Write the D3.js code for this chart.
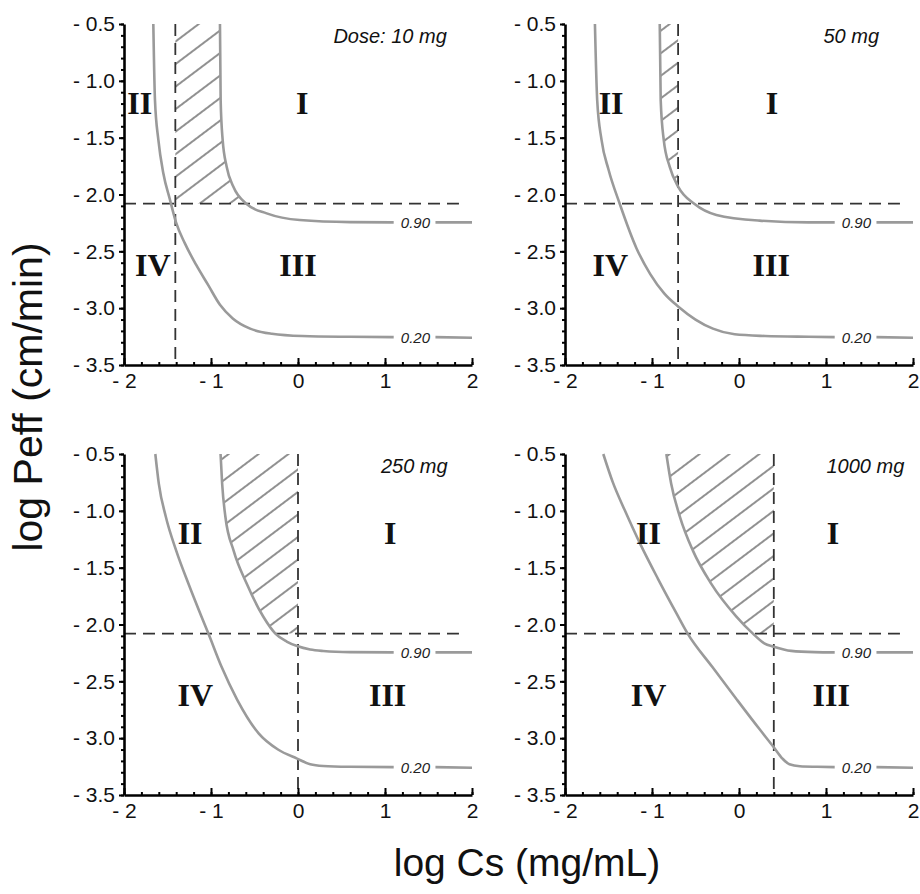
<!DOCTYPE html>
<html>
<head>
<meta charset="utf-8">
<script src="https://cdn.jsdelivr.net/npm/d3@7"></script>
<style>
  body { margin: 0; background: #fff; }
</style>
</head>
<body>
<svg width="920" height="894" font-family="'Liberation Sans', Arial, sans-serif"></svg>
<script>
// ---- data ----
const doseLabels = ['Dose: 10 mg', '50 mg', '250 mg', '1000 mg'];
const doseLabelX = [1.71, 1.61, 1.72, 1.90];     // right edge of the dose text (log Cs)
const doseLine = [-1.41, -0.70, 0.0, 0.40];      // vertical dashed line, log Cs
const peffLine = -2.08;                          // horizontal dashed line, log Peff
const xTickValues = [-2, -1, 0, 1, 2];
const yTickValues = [-0.5, -1.0, -1.5, -2.0, -2.5, -3.0, -3.5];
const contourNames = ['0.90', '0.20'];
const contourLabelX = 1.35;
const regionNames = ['I', 'II', 'III', 'IV'];
const regionY = [-1.29, -1.29, -2.72, -2.72];
// x position of region labels I, II, III, IV per panel
const regionX = [
  [0.05, -1.82, 0.0, -1.67],
  [0.38, -1.47, 0.37, -1.48],
  [1.06, -1.24, 1.03, -1.18],
  [1.08, -1.04, 1.06, -1.04]
];

// fraction absorbed = 0.90 contour, [log Cs, log Peff]
const curve90 = [
  [[-0.897, -0.5], [-0.889, -1.17], [-0.866, -1.52], [-0.82, -1.755], [-0.744, -1.93], [-0.59, -2.084],
   [-0.36, -2.166], [0.02, -2.225], [0.6, -2.243], [1.1, -2.245], [1.58, -2.245], [2.0, -2.245]],
  [[-0.911, -0.5], [-0.90, -1.17], [-0.865, -1.52], [-0.797, -1.755], [-0.70, -1.93], [-0.51, -2.084],
   [-0.26, -2.18], [0.235, -2.23], [0.8, -2.245], [1.1, -2.245], [1.58, -2.245], [2.0, -2.245]],
  [[-0.89, -0.5], [-0.872, -0.76], [-0.835, -1.05], [-0.74, -1.35], [-0.59, -1.64], [-0.40, -1.93], [-0.26, -2.08],
   [-0.13, -2.15], [-0.01, -2.19], [0.14, -2.22], [0.29, -2.233], [0.6, -2.243], [1.1, -2.245], [1.58, -2.245], [2.0, -2.245]],
  [[-0.835, -0.5], [-0.78, -0.76], [-0.68, -1.05], [-0.53, -1.35], [-0.32, -1.64], [-0.03, -1.93], [0.16, -2.08],
   [0.29, -2.165], [0.40, -2.195], [0.60, -2.232], [0.87, -2.243], [1.1, -2.245], [1.58, -2.245], [2.0, -2.245]]
];

// fraction absorbed = 0.20 contour
const curve20 = [
  [[-1.663, -0.5], [-1.644, -1.17], [-1.605, -1.52], [-1.548, -1.813], [-1.471, -2.048], [-1.40, -2.25],
   [-1.30, -2.43], [-1.17, -2.62], [-1.03, -2.80], [-0.897, -2.97], [-0.75, -3.09], [-0.55, -3.18],
   [-0.30, -3.225], [0.05, -3.245], [0.6, -3.252], [1.1, -3.255], [1.58, -3.255], [2.0, -3.26]],
  [[-1.656, -0.5], [-1.63, -1.17], [-1.58, -1.52], [-1.50, -1.78], [-1.37, -2.084], [-1.18, -2.47],
   [-1.02, -2.70], [-0.86, -2.87], [-0.70, -2.985], [-0.50, -3.10], [-0.30, -3.18], [-0.05, -3.23],
   [0.3, -3.245], [0.8, -3.252], [1.1, -3.255], [1.58, -3.255], [2.0, -3.26]],
  [[-1.64, -0.5], [-1.60, -0.76], [-1.52, -1.05], [-1.40, -1.35], [-1.26, -1.64], [-1.11, -1.93], [-1.03, -2.08],
   [-0.88, -2.37], [-0.70, -2.66], [-0.45, -2.96], [-0.23, -3.10], [-0.01, -3.18], [0.14, -3.23], [0.29, -3.245],
   [0.6, -3.252], [1.1, -3.255], [1.58, -3.255], [2.0, -3.26]],
  [[-1.56, -0.5], [-1.45, -0.75], [-1.31, -1.0], [-1.13, -1.3], [-0.93, -1.6], [-0.72, -1.9], [-0.59, -2.08],
   [-0.31, -2.37], [-0.03, -2.655], [0.235, -2.92], [0.40, -3.08], [0.50, -3.18], [0.58, -3.23], [0.70, -3.247],
   [0.9, -3.252], [1.1, -3.255], [1.58, -3.255], [2.0, -3.26]]
];

// ---- layout ----
let svg = d3.select('svg');
let panelW = 348, panelH = 341;
let panelX = [124, 565], panelY = [24, 454];
let gapFrom = 1.1, gapTo = 1.58;

let x = d3.scaleLinear().domain([-2, 2]).range([0, panelW]);
let y = d3.scaleLinear().domain([-0.5, -3.5]).range([0, panelH]);

let line = d3.line()
  .x(d => x(d[0]))
  .y(d => y(d[1]))
  .curve(d3.curveMonotoneX);

let defs = svg.append('defs');
defs.append('pattern')
  .attr('id', 'hatch')
  .attr('patternUnits', 'userSpaceOnUse')
  .attr('width', 18).attr('height', 18)
  .attr('patternTransform', 'rotate(-37)')
  .append('line')
  .attr('x1', 0).attr('y1', 9).attr('x2', 18).attr('y2', 9)
  .attr('stroke', '#555').attr('stroke-width', 1.3);

let fmtY = d => '- ' + Math.abs(d).toFixed(1);
let fmtX = d => d < 0 ? '- ' + Math.abs(d) : String(d);

doseLabels.forEach((dose, i) => {
  let g = svg.append('g')
    .attr('transform', 'translate(' + [panelX[i % 2], panelY[Math.floor(i / 2)]] + ')');

  // hatched region: between the dose line and the 0.90 curve, above the peff line
  let c = curve90[i];
  let doseLeft = doseLine[i] < c[0][0];
  let x0 = doseLeft ? doseLine[i] : -2;
  let x1 = doseLeft ? 2 : doseLine[i];
  defs.append('clipPath').attr('id', 'clip' + i)
    .append('rect')
    .attr('x', x(x0)).attr('y', y(-0.5))
    .attr('width', x(x1) - x(x0))
    .attr('height', y(peffLine) - y(-0.5));

  let closeSide = doseLeft
    ? 'L' + [x(2), y(-3.5)] + 'L' + [x(-2), y(-3.5)] + 'L' + [x(-2), y(-0.5)] + 'Z'
    : 'L' + [x(2), y(-0.5)] + 'Z';
  g.append('path')
    .attr('d', line(c) + closeSide)
    .attr('fill', 'url(#hatch)')
    .attr('clip-path', 'url(#clip' + i + ')');

  // dashed reference lines
  g.append('line')
    .attr('x1', x(-2)).attr('x2', x(1.85))
    .attr('y1', y(peffLine)).attr('y2', y(peffLine))
    .attr('stroke', '#333').attr('stroke-width', 1.8).attr('stroke-dasharray', '12,7');
  g.append('line')
    .attr('x1', x(doseLine[i])).attr('x2', x(doseLine[i]))
    .attr('y1', y(-0.5)).attr('y2', y(-3.5))
    .attr('stroke', '#333').attr('stroke-width', 1.8).attr('stroke-dasharray', '12,7');

  // contours, with a gap for their labels
  [curve90[i], curve20[i]].forEach((pts, k) => {
    let left = pts.filter(p => p[0] <= gapFrom);
    let right = pts.filter(p => p[0] >= gapTo);
    [left, right].forEach(seg => {
      g.append('path')
        .attr('d', line(seg))
        .attr('fill', 'none')
        .attr('stroke', '#9a9a9a')
        .attr('stroke-width', 2.6);
    });
    g.append('text')
      .attr('x', x(contourLabelX))
      .attr('y', y(pts[pts.length - 1][1]))
      .attr('dy', '0.35em')
      .attr('text-anchor', 'middle')
      .attr('font-style', 'italic')
      .attr('font-size', '15px')
      .attr('fill', '#222')
      .text(contourNames[k]);
  });

  // region labels
  regionNames.forEach((r, j) => {
    g.append('text')
      .attr('x', x(regionX[i][j]))
      .attr('y', y(regionY[j]))
      .attr('text-anchor', 'middle')
      .attr('font-family', "'Liberation Serif', 'Times New Roman', serif")
      .attr('font-weight', 'bold')
      .attr('font-size', '32px')
      .attr('fill', '#111')
      .text(r);
  });

  // dose label
  g.append('text')
    .attr('x', x(doseLabelX[i]))
    .attr('y', y(-0.5) + 19)
    .attr('text-anchor', 'end')
    .attr('font-style', 'italic')
    .attr('font-size', '20px')
    .attr('fill', '#111')
    .text(dose);

  // axes: minor ticks first, then the labelled major ticks
  g.append('g')
    .call(d3.axisLeft(y).tickValues(d3.range(-0.5, -3.55, -0.1)).tickSize(3).tickFormat(''))
    .call(a => a.select('.domain').remove())
    .call(a => a.selectAll('line').attr('stroke-width', 2));
  g.append('g')
    .attr('transform', 'translate(0,' + panelH + ')')
    .call(d3.axisBottom(x).tickValues(d3.range(-2, 2.01, 0.2)).tickSize(-3).tickFormat(''))
    .call(a => a.select('.domain').remove())
    .call(a => a.selectAll('line').attr('stroke-width', 2));

  let yAxis = g.append('g')
    .call(d3.axisLeft(y).tickValues(yTickValues).tickSize(5).tickSizeOuter(0).tickPadding(4).tickFormat(fmtY));
  let xAxis = g.append('g')
    .attr('transform', 'translate(0,' + panelH + ')')
    .call(d3.axisBottom(x).tickValues(xTickValues).tickSizeInner(-7).tickSizeOuter(0).tickPadding(8).tickFormat(fmtX));
  [yAxis, xAxis].forEach(a => {
    a.attr('font-family', null).attr('font-size', null);
    a.select('.domain').attr('stroke-width', 2.6);
    a.selectAll('line').attr('stroke-width', 2);
    a.selectAll('text')
      .attr('font-size', '21px')
      .attr('fill', '#111');
  });
});

// axis titles
svg.append('text')
  .attr('x', 527).attr('y', 876)
  .attr('text-anchor', 'middle')
  .attr('font-size', '39px')
  .attr('fill', '#111')
  .text('log Cs (mg/mL)');

svg.append('text')
  .attr('transform', 'translate(42,397) rotate(-90)')
  .attr('text-anchor', 'middle')
  .attr('font-size', '41px')
  .attr('fill', '#111')
  .text('log Peff (cm/min)');
</script>
</body>
</html>
